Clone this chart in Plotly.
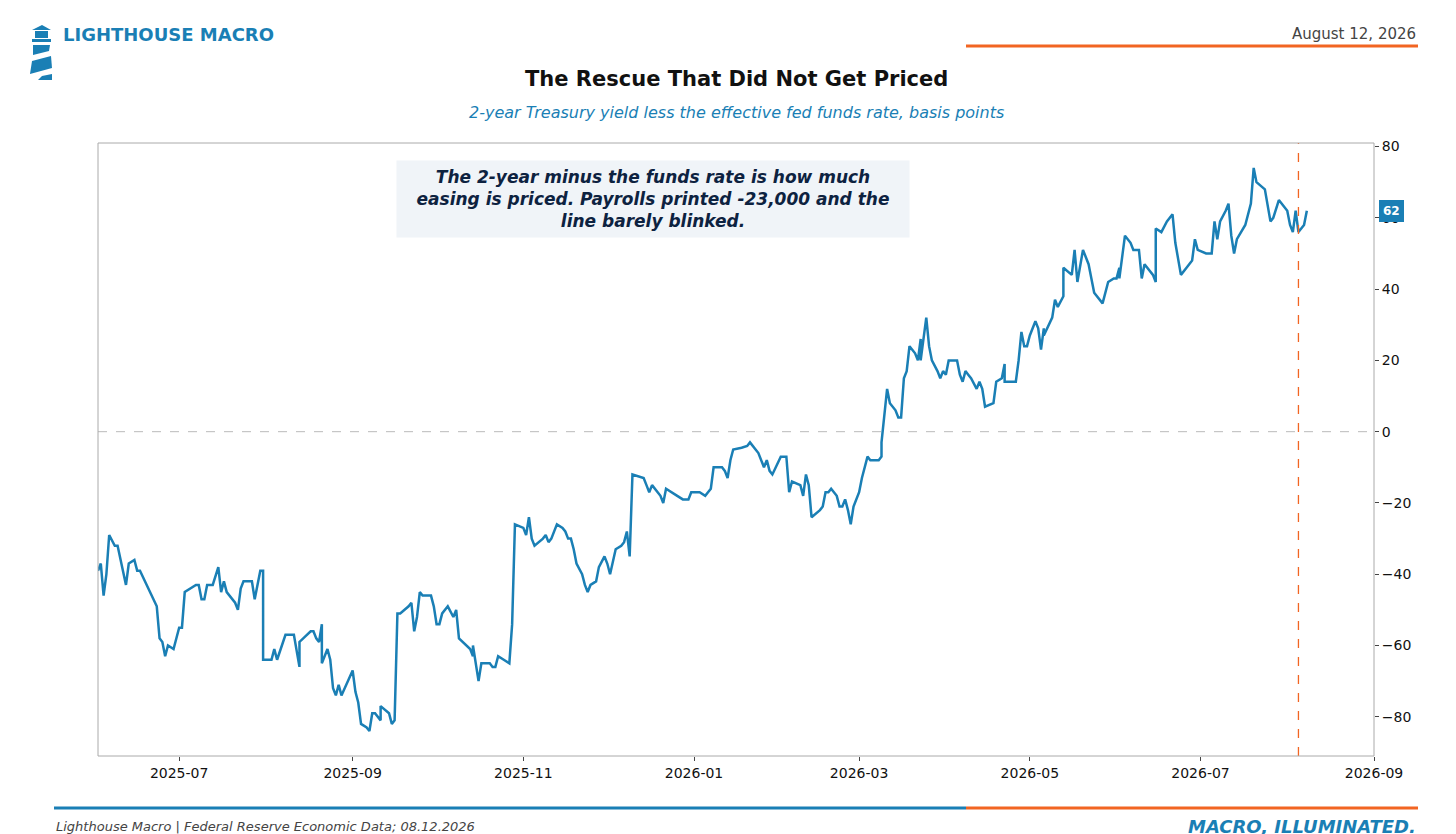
import pandas as pd
import plotly.graph_objects as go


# Spread of the 2-year yield over the effective fed funds rate
start = pd.Timestamp("2025-06-02")
days = [0, 1, 2, 3, 4, 6, 7, 9, 10, 11, 13, 14, 15, 21, 22, 23, 24, 25, 27, 29, 30, 31, 35, 36, 37, 38, 39, 41, 43, 44,
        45, 46, 49, 50, 51, 52, 55, 56, 58, 59, 59, 62, 63, 64, 67, 70, 71, 72, 72, 76, 77, 78, 79, 80, 80, 82, 83, 84, 85, 86,
        87, 90, 91, 92, 93, 94, 96, 97, 98, 99, 101, 101, 104, 105, 106, 107, 108, 111, 112, 113, 114, 115, 116, 119, 120, 121, 122, 123, 125, 127,
        127, 128, 129, 133, 134, 134, 136, 137, 140, 141, 142, 143, 145, 147, 148, 149, 152, 153, 154, 155, 156, 159, 160, 161, 162, 164, 166, 167, 168, 169,
        170, 171, 173, 174, 175, 176, 178, 179, 181, 182, 183, 185, 187, 188, 189, 190, 191, 195, 196, 197, 198, 199, 201, 202, 203, 207, 209, 211, 212, 215,
        217, 218, 219, 220, 223, 224, 225, 226, 227, 230, 232, 233, 234, 236, 238, 239, 240, 241, 244, 246, 247, 248, 251, 252, 253, 254, 255, 258, 259, 260,
        261, 262, 264, 265, 266, 267, 268, 269, 270, 272, 273, 274, 275, 276, 279, 280, 280, 282, 283, 285, 286, 287, 288, 289, 290, 292, 293, 294, 294, 296,
        297, 298, 300, 301, 302, 303, 304, 307, 308, 309, 310, 311, 312, 314, 314, 315, 316, 317, 320, 321, 323, 324, 324, 328, 329, 330, 331, 332, 333, 335,
        336, 337, 338, 338, 341, 342, 343, 345, 345, 348, 349, 350, 352, 354, 355, 356, 359, 361, 363, 364, 365, 365, 367, 369, 370, 372, 373, 374, 377, 378,
        378, 380, 382, 384, 385, 386, 387, 389, 391, 392, 393, 396, 398, 399, 400, 401, 403, 404, 405, 406, 407, 410, 412, 413, 414, 417, 418, 419, 420, 422,
        425, 426, 427, 428, 429, 431, 432]
spread = [-39, -37, -46, -40, -29, -32, -32, -40, -43, -37, -36, -39, -39, -49, -58, -59, -63, -60, -61, -55, -55, -45, -43, -43, -47, -47, -43, -43, -38, -45,
          -42, -45, -48, -50, -44, -42, -42, -47, -39, -39, -64, -64, -61, -64, -57, -57, -61, -66, -59, -56, -56, -58, -59, -54, -65, -61, -64, -72, -74, -71,
          -74, -69, -67, -73, -76, -82, -83, -84, -79, -79, -81, -77, -79, -82, -81, -51, -51, -49, -48, -56, -52, -45, -46, -46, -49, -54, -54, -51, -49, -52,
          -52, -50, -58, -61, -63, -60, -70, -65, -65, -66, -66, -63, -64, -65, -54, -26, -27, -29, -24, -30, -32, -30, -29, -31, -30, -26, -27, -28, -30, -30,
          -33, -37, -40, -43, -45, -43, -42, -38, -35, -37, -40, -33, -32, -31, -28, -35, -12, -13, -15, -17, -15, -16, -18, -20, -16, -18, -19, -19, -17, -17,
          -18, -17, -16, -10, -10, -11, -13, -8, -5, -4.5, -4, -3, -4, -6, -10, -8, -11, -12, -7, -7, -17, -14, -15, -18, -12, -15, -24, -22, -21, -17,
          -17, -16, -18, -21, -21, -19, -22, -26, -21, -17, -13, -10, -7, -8, -8, -7, -3, 12, 8, 6, 4, 4, 15, 17, 24, 22, 20, 26, 20, 32,
          24, 20, 17, 15, 17, 16, 20, 20, 16, 14, 17, 16, 15, 12, 12, 14, 12, 7, 8, 14, 15, 19, 14, 14, 20, 28, 24, 24, 27, 31,
          29, 23, 29, 27, 32, 37, 35, 38, 46, 44, 51, 42, 51, 47, 43, 39, 36, 42, 43, 43, 46, 43, 55, 53, 51, 51, 43, 47, 44, 42,
          57, 56, 59, 61, 53, 48, 44, 46, 48, 54, 51, 50, 50, 59, 54, 59, 62, 64, 55, 50, 54, 58, 64, 74, 70, 68, 63, 59, 60, 65,
          62, 58, 56, 62, 56, 58, 62]
df = pd.DataFrame({"Date": [start + pd.Timedelta(days=d) for d in days], "Spread": spread})

blue = '#1a7fb5'
orange = '#f26522'
navy = '#0d2240'

fig = go.Figure()

# Spread line
fig.add_trace(go.Scatter(
    x=df['Date'],
    y=df['Spread'],
    mode='lines',
    line=dict(color=blue, width=2.5),
    showlegend=False,
    hoverinfo='skip'
))

# Zero line and the payrolls release date
fig.add_hline(y=0, line=dict(color='#bbbbbb', width=1, dash='dash'))
fig.add_vline(x=pd.Timestamp("2026-08-05"), line=dict(color=orange, width=1.3, dash='dash'))

W, H = 1456, 834
L, R, T, B = 90, 90, 135, 86  # plot margins in pixels
PW, PH = W - L - R, H - T - B


def px(x):
    return (x - L) / PW  # pixel -> paper (plot-area) coordinate


def py(y):
    return (H - B - y) / PH


shapes = [
    # frame
    dict(type='rect', xref='paper', yref='paper', x0=px(3), x1=px(W - 3), y0=py(3), y1=py(H - 3),
         line=dict(color='#1f87b8', width=6), fillcolor='rgba(0,0,0,0)'),
    # header rules
    dict(type='line', xref='paper', yref='paper', x0=px(46), x1=px(958), y0=py(38), y1=py(38), line=dict(color=blue, width=3)),
    dict(type='line', xref='paper', yref='paper', x0=px(958), x1=px(1410), y0=py(38), y1=py(38), line=dict(color=orange, width=3)),
    # footer rules
    dict(type='line', xref='paper', yref='paper', x0=px(46), x1=px(958), y0=py(800), y1=py(800), line=dict(color=blue, width=3)),
    dict(type='line', xref='paper', yref='paper', x0=px(958), x1=px(1410), y0=py(800), y1=py(800), line=dict(color=orange, width=3)),
    # plot border
    dict(type='rect', xref='paper', yref='paper', x0=0, x1=1, y0=0, y1=1, line=dict(color='#aaaaaa', width=1)),
]
# lighthouse logo
for path in ['M 24 22 L 34 17 L 43 22 Z', 'M 27 23 L 40 23 L 40 30 L 27 30 Z', 'M 24 31 L 43 31 L 43 34 L 24 34 Z',
             'M 25 37 L 42 37 L 41 43 L 25 47 Z', 'M 24 53 L 43 48 L 44 60 L 22 66 Z', 'M 34 68 L 44 66 L 44 72 L 30 72 Z']:
    pts = path.replace('M', '').replace('Z', '').split('L')
    coords = [tuple(float(v) for v in p.split()) for p in pts]
    d = 'M ' + ' L '.join(f'{px(a):.5f},{py(b):.5f}' for a, b in coords) + ' Z'
    shapes.append(dict(type='path', xref='paper', yref='paper', path=d, fillcolor=blue, line=dict(width=0)))

annotations = [
    dict(text='<b>LIGHTHOUSE MACRO</b>', x=px(53), y=py(27), xref='paper', yref='paper', xanchor='left', yanchor='middle',
         showarrow=False, font=dict(size=18, color=blue)),
    dict(text='August 12, 2026', x=px(1410), y=py(26), xref='paper', yref='paper', xanchor='right', yanchor='middle',
         showarrow=False, font=dict(size=15, color='#444444')),
    dict(text='<b>The Rescue That Did Not Get Priced</b>', x=px(728), y=py(71), xref='paper', yref='paper', yanchor='middle',
         showarrow=False, font=dict(size=21, color='#111111')),
    dict(text='<i>2-year Treasury yield less the effective fed funds rate, basis points</i>', x=px(728), y=py(104), xref='paper',
         yref='paper', yanchor='middle', showarrow=False, font=dict(size=16, color=blue)),
    dict(text='<b><i>The 2-year minus the funds rate is how much<br>easing is priced. Payrolls printed -23,000 and the<br>line barely blinked.</i></b>',
         x=px(388), y=py(191), xref='paper', yref='paper', yanchor='middle', showarrow=False, align='center',
         font=dict(size=17, color=navy), bgcolor='#f0f4f8', borderpad=6, width=500),
    dict(text='<b>62</b>', x=px(1371), y=62, xref='paper', yref='y', xanchor='left', yanchor='middle', showarrow=False,
         font=dict(size=12, color='white'), bgcolor=blue, bordercolor=blue, borderpad=3),
    dict(text='<i>Lighthouse Macro | Federal Reserve Economic Data; 08.12.2026</i>', x=px(46), y=py(818), xref='paper',
         yref='paper', xanchor='left', yanchor='middle', showarrow=False, font=dict(size=13, color='#444444')),
    dict(text='<b><i>MACRO, ILLUMINATED.</i></b>', x=px(1410), y=py(818), xref='paper', yref='paper', xanchor='right',
         yanchor='middle', showarrow=False, font=dict(size=18, color=blue)),
]

fig.update_layout(
    width=W,
    height=H,
    margin=dict(l=L, r=R, t=T, b=B, autoexpand=False),
    paper_bgcolor='white',
    plot_bgcolor='white',
    font=dict(family='DejaVu Sans', size=14, color='#111111'),
    shapes=shapes,
    annotations=annotations,
    xaxis=dict(range=[pd.Timestamp("2025-06-02"), pd.Timestamp("2026-09-01")], tickformat='%Y-%m', dtick='M2',
               tick0='2025-07-01', showgrid=False, ticks='outside', ticklen=4, zeroline=False),
    yaxis=dict(side='right', range=[-91, 81], tickvals=[-80, -60, -40, -20, 0, 20, 40, 60, 80], showgrid=False,
               ticks='outside', ticklen=4, zeroline=False),
)

fig.write_html("out.html")
